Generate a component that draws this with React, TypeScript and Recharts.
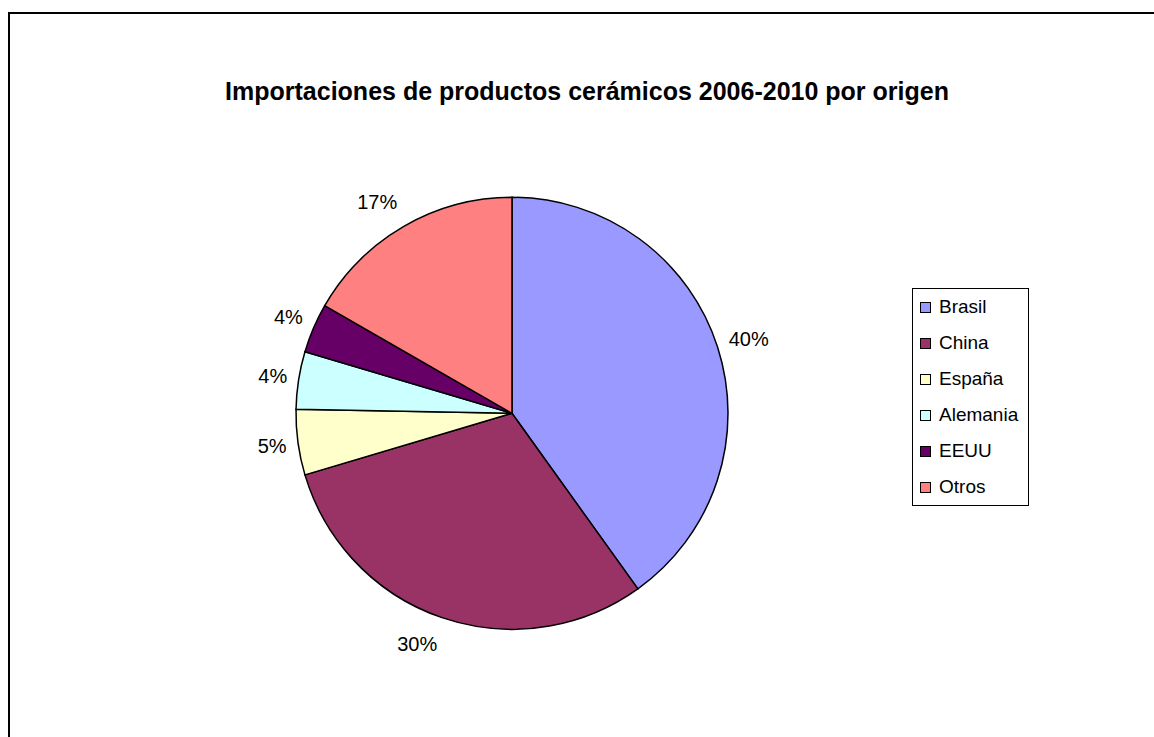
import React from 'react';
import { PieChart, Pie, Cell, Legend } from 'recharts';

const countries = ['Brasil', 'China', 'España', 'Alemania', 'EEUU', 'Otros'];
const shares = [40.1, 30.3, 4.9, 4.3, 3.7, 16.7];
const colors = ['#9999FF', '#993366', '#FFFFCC', '#CCFFFF', '#660066', '#FF8080'];

const data = countries.map((name, i) => ({ name, value: shares[i] }));

const RADIAN = Math.PI / 180;
const FONT = "'Liberation Sans', Arial, sans-serif";

// Excel-style outside labels: anchored just outside the rim along the mid angle
const renderLabel = (props: any) => {
  const { cx, cy, midAngle, outerRadius, percent } = props;
  const dx = Math.cos(-midAngle * RADIAN);
  const dy = Math.sin(-midAngle * RADIAN);
  const r = outerRadius + 10;
  const px = cx + r * dx;
  const py = cy + r * dy;
  const right = dx > 0;
  return (
    <text
      x={px + (right ? 1.5 : -1.5)}
      y={py + dy * 18}
      fill="#000"
      textAnchor={right ? 'start' : 'end'}
      dominantBaseline="central"
      fontSize={20}
      fontFamily={FONT}
    >
      {`${Math.round(percent * 100)}%`}
    </text>
  );
};

const LegendBox = () => (
  <div style={{
    border: '1px solid #000', background: '#fff', width: 117, height: 218,
    boxSizing: 'border-box', padding: '0 0 0 7px',
    fontFamily: FONT, fontSize: 19, color: '#000',
  }}>
    {countries.map((c, i) => (
      <div key={c} style={{ display: 'flex', alignItems: 'center', height: 36 }}>
        <span style={{
          display: 'inline-block', width: 9, height: 9, background: colors[i],
          border: '1px solid #000', marginRight: 8, flexShrink: 0,
        }} />
        <span>{c}</span>
      </div>
    ))}
  </div>
);

export default function App() {
  return (
    <div style={{
      position: 'fixed', left: 8, top: 12, width: 1146, height: 725,
      borderTop: '2px solid #000', borderLeft: '2px solid #000', boxSizing: 'border-box',
      background: '#fff', overflow: 'hidden',
    }}>
      <div style={{
        position: 'absolute', left: 2, top: 62.5, width: 1150, textAlign: 'center',
        fontFamily: FONT, fontWeight: 'bold', fontSize: 25, color: '#000', whiteSpace: 'nowrap',
      }}>
        Importaciones de productos cerámicos 2006-2010 por origen
      </div>
      <div style={{ position: 'absolute', left: 0, top: 0 }}>
        <PieChart width={1140} height={720} margin={{ top: 0, right: 0, bottom: 0, left: 0 }}>
          <Pie
            data={data}
            dataKey="value"
            nameKey="name"
            cx={502}
            cy={399.3}
            outerRadius={216}
            startAngle={90}
            endAngle={-270}
            stroke="#000"
            strokeWidth={1.5}
            label={renderLabel}
            labelLine={false}
            isAnimationActive={false}
          >
            {data.map((d, i) => (
              <Cell key={d.name} fill={colors[i]} />
            ))}
          </Pie>
          <Legend
            content={<LegendBox />}
            layout="vertical"
            wrapperStyle={{ position: 'absolute', left: 902, top: 274, width: 117 }}
          />
        </PieChart>
      </div>
    </div>
  );
}
